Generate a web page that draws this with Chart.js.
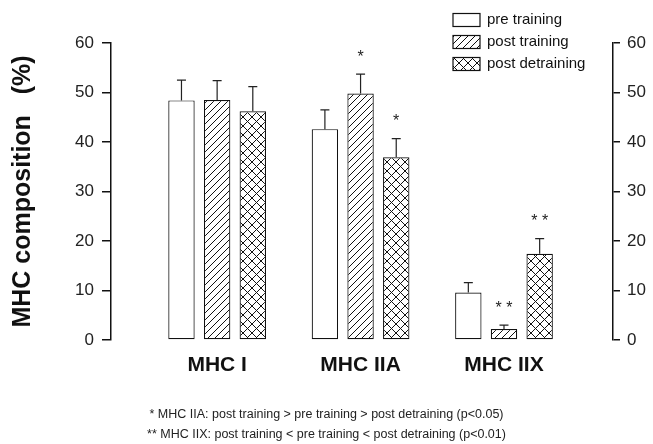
<!DOCTYPE html>
<html>
<head>
<meta charset="utf-8">
<script src="https://cdn.jsdelivr.net/npm/chart.js@4.4.0/dist/chart.umd.min.js"></script>
<style>
  html, body { margin: 0; padding: 0; background: #fff; }
</style>
</head>
<body>
<canvas id="mhcChart" width="653" height="444"></canvas>
<script>
// data
const categories = ["MHC I", "MHC IIA", "MHC IIX"];
const seriesNames = ["pre training", "post training", "post detraining"];
const preValues = [48.4, 42.6, 9.6];
const postValues = [48.5, 49.8, 2.2];
const detrainValues = [46.2, 36.9, 17.4];
const preErrors = [4.1, 3.9, 2.0];
const postErrors = [3.9, 3.9, 0.8];
const detrainErrors = [5.0, 3.8, 3.1];
const preMarks = ["", "", ""];
const postMarks = ["", "*", "**"];
const detrainMarks = ["", "*", "**"];
const yTicks = [0, 10, 20, 30, 40, 50, 60];
const footnotes = [
  "* MHC IIA: post training > pre training > post detraining (p<0.05)",
  "** MHC IIX: post training < pre training < post detraining (p<0.01)"
];

const FONT = "'Liberation Sans', Arial, sans-serif";

// fill patterns
function makePattern(size, cross) {
  const c = document.createElement("canvas");
  c.width = size;
  c.height = size;
  const g = c.getContext("2d");
  g.fillStyle = "#fff";
  g.fillRect(0, 0, size, size);
  g.strokeStyle = "#111";
  g.lineWidth = 1;
  g.beginPath();
  g.moveTo(-1, size + 1); g.lineTo(size + 1, -1);
  if (cross) {
    g.moveTo(-1, -1); g.lineTo(size + 1, size + 1);
  }
  g.stroke();
  return g.createPattern(c, "repeat");
}
const ctx = document.getElementById("mhcChart").getContext("2d");
const fills = ["#fff", makePattern(7, false), makePattern(9, true)];

const valueSets = [preValues, postValues, detrainValues];
const errorSets = [preErrors, postErrors, detrainErrors];
const markSets = [preMarks, postMarks, detrainMarks];

const datasets = seriesNames.map(function (name, s) {
  return {
    label: name,
    data: valueSets[s].map(function (v, i) { return { x: i, y: v }; }),
    backgroundColor: fills[s],
    borderColor: "#111",
    borderWidth: 1.2,
    borderSkipped: false,
    categoryPercentage: 0.746,
    barPercentage: 0.74
  };
});

// error bars, significance stars and the boxed legend
const extras = {
  id: "extras",
  afterDatasetsDraw(chart) {
    const c = chart.ctx;
    const y = chart.scales.y;
    c.save();
    c.strokeStyle = "#222";
    c.lineWidth = 1.2;
    c.fillStyle = "#222";
    c.font = "16px " + FONT;
    c.textAlign = "center";
    c.textBaseline = "middle";
    chart.data.datasets.forEach(function (ds, s) {
      const meta = chart.getDatasetMeta(s);
      meta.data.forEach(function (bar, i) {
        const top = y.getPixelForValue(valueSets[s][i] + errorSets[s][i]);
        c.beginPath();
        c.moveTo(bar.x, bar.y);
        c.lineTo(bar.x, top);
        c.moveTo(bar.x - 4.5, top);
        c.lineTo(bar.x + 4.5, top);
        c.stroke();
        if (markSets[s][i]) {
          c.fillText(markSets[s][i].split("").join(" "), bar.x, top - 17);
        }
      });
    });
    c.restore();
  },
  afterDraw(chart) {
    const c = chart.ctx;
    c.save();
    c.font = "15px " + FONT;
    c.textBaseline = "middle";
    c.textAlign = "left";
    chart.data.datasets.forEach(function (ds, s) {
      const cy = 20 + s * 22;
      c.fillStyle = ds.backgroundColor;
      c.fillRect(453, cy - 6.5, 27, 13);
      c.strokeStyle = "#111";
      c.lineWidth = 1.2;
      c.strokeRect(453, cy - 6.5, 27, 13);
      c.fillStyle = "#111";
      c.fillText(ds.label, 487, cy);
    });
    c.restore();
  }
};

const yAxisCommon = {
  min: 0,
  max: 60,
  afterBuildTicks(scale) { scale.ticks = yTicks.map(function (v) { return { value: v }; }); },
  border: { display: true, color: "#111", width: 1.5 },
  grid: { display: true, drawOnChartArea: false, drawTicks: true, tickLength: 9, color: "#111", lineWidth: 1.5 },
  ticks: { color: "#222", font: { family: FONT, size: 17 }, padding: 8 }
};

new Chart(ctx, {
  type: "bar",
  data: { datasets: datasets },
  options: {
    responsive: false,
    animation: false,
    layout: { padding: { top: 43, left: 0, right: 0, bottom: 0 } },
    plugins: {
      legend: { display: false },
      tooltip: { enabled: false },
      title: {
        display: true,
        position: "bottom",
        text: footnotes,
        color: "#222",
        font: { family: FONT, size: 12.5, lineHeight: "19.5px", weight: "normal" },
        padding: { top: 0, bottom: 0 }
      }
    },
    scales: {
      x: {
        type: "linear",
        min: -0.74,
        max: 2.76,
        offset: false,
        afterBuildTicks(scale) { scale.ticks = categories.map(function (c, i) { return { value: i }; }); },
        afterFit(scale) { scale.height = 65; },
        border: { display: false },
        grid: { display: false, drawTicks: false },
        ticks: {
          color: "#111",
          font: { family: FONT, size: 21, weight: "bold" },
          padding: 13,
          maxRotation: 0,
          autoSkip: false,
          callback: function (v) { return categories[v]; }
        }
      },
      y: Object.assign({}, yAxisCommon, {
        position: "left",
        afterFit(scale) { scale.width = 111; },
        title: {
          display: true,
          text: "MHC composition   (%)",
          color: "#111",
          font: { family: FONT, size: 25, weight: "bold" },
          padding: { top: 8, bottom: 0 }
        }
      }),
      y2: Object.assign({}, yAxisCommon, {
        position: "right",
        afterFit(scale) { scale.width = 40; },
        grid: { display: true, drawOnChartArea: false, drawTicks: true, tickLength: 7, color: "#111", lineWidth: 1.5 },
        ticks: { color: "#222", font: { family: FONT, size: 17 }, padding: 7 }
      })
    }
  },
  plugins: [extras]
});
</script>
</body>
</html>
